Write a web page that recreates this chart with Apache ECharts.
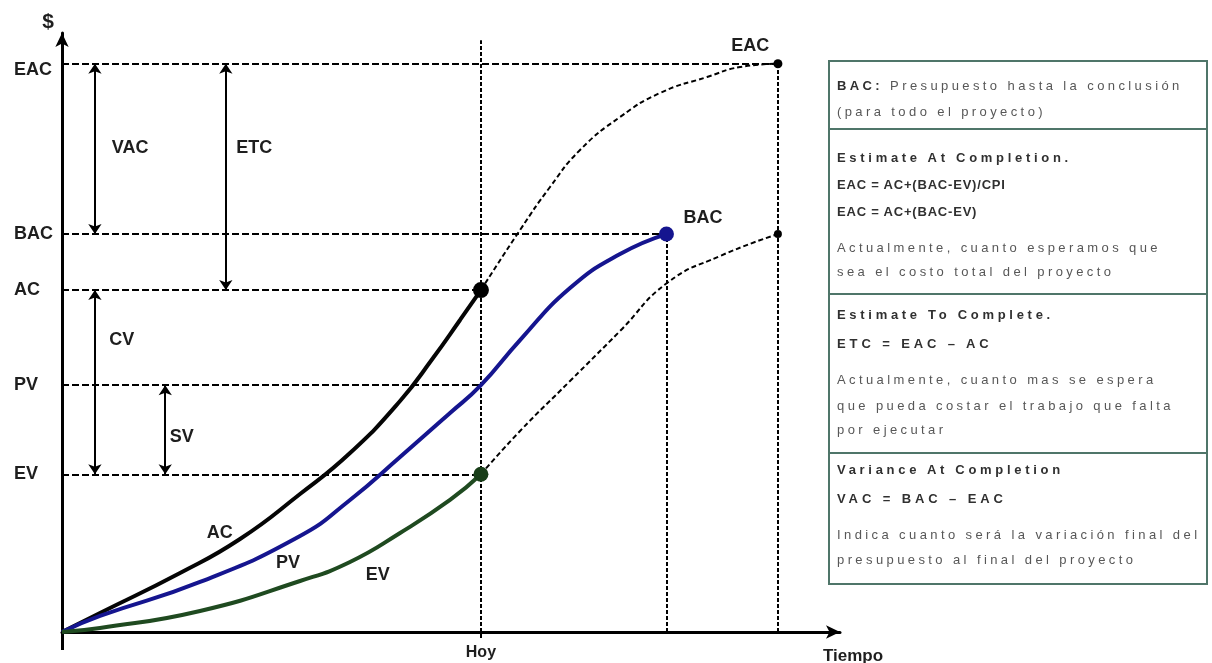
<!DOCTYPE html>
<html>
<head>
<meta charset="utf-8">
<title>Valor Ganado</title>
<script src="https://cdn.jsdelivr.net/npm/echarts@6/dist/echarts.min.js"></script>
<style>
  html, body { margin: 0; padding: 0; background: #fff; }
  #chart { position: absolute; left: 0; top: 0; width: 1212px; height: 663px; }
  #notes { position: absolute; left: 828px; top: 60px; width: 376px; height: 521px;
           border: 2px solid #4f7569; font-family: 'Liberation Sans', Arial, sans-serif; font-size: 13px; }
  .sep { position: absolute; left: 0; right: 0; height: 0; border-top: 2px solid #4f7569; }
  .ln { position: absolute; left: 7px; white-space: nowrap; line-height: 16px; color: #575757; letter-spacing: 3.4px; }
  .ln.t { font-weight: bold; color: #303030; letter-spacing: 3.7px; }
  .ln.f { font-weight: bold; color: #303030; letter-spacing: 0.8px; }
  .ln.g { font-weight: bold; color: #303030; letter-spacing: 3.9px; }
  .ln b { color: #303030; }
</style>
</head>
<body>
<div id="chart"></div>
<div id="notes"></div>
<script>
// Cost levels marked on the $ axis
const levelNames  = ['EV', 'PV', 'AC', 'BAC', 'EAC'];
const levelValues = [26.2, 41.0, 56.8, 66.1, 94.4];
const EV = levelValues[0], PV = levelValues[1], AC = levelValues[2], BAC = levelValues[3], EAC = levelValues[4];

// Time marks
const timeNames  = ['Hoy'];
const hoyTime    = 56.0;   // today
const bacTime    = 80.8;   // planned finish
const endTime    = 95.7;   // forecast finish

// Cumulative curves  [time, $]
const acCurve = [[0, 0], [5.08, 3.16], [15.78, 9.80], [23.80, 15.45], [31.82, 22.92], [38.50, 29.73],
                 [45.19, 38.37], [49.60, 45.51], [53.21, 51.83], [hoyTime, AC]];
const pvCurve = [[0, 0], [5.08, 2.66], [18.45, 8.31], [31.82, 15.95], [38.50, 21.93], [45.19, 29.07],
                 [51.87, 36.38], [hoyTime, PV], [61.23, 48.50], [67.91, 57.14], [74.60, 62.79], [bacTime, BAC]];
const evCurve = [[0, 0], [5.08, 0.66], [18.45, 3.49], [31.82, 8.47], [38.50, 11.63], [45.19, 16.45],
                 [51.87, 21.93], [hoyTime, EV]];

// Forecast continuations after today
const eacForecast = [[hoyTime, AC], [61.23, 66.78], [65.24, 73.92], [69.25, 80.07], [74.60, 85.55],
                     [79.95, 89.54], [86.23, 92.19], [90.64, 93.85], [endTime, EAC]];
const evForecast  = [[hoyTime, EV], [61.23, 33.39], [67.91, 41.69], [74.60, 50.00], [80.88, 57.97],
                     [87.97, 62.46], [endTime, BAC]];

// Variance spans: name, time, from, to
const spanNames = ['VAC', 'ETC', 'CV', 'SV'];
const spanTimes = [4.4, 21.9, 4.4, 13.8];
const spanFrom  = [EAC, EAC, AC, PV];
const spanTo    = [BAC, AC, EV, EV];

// Notes panel text
const noteDividers = [67, 232, 391];
const noteLines = [
  { y: 24,  k: '',  h: '<b>BAC:</b> Presupuesto hasta la conclusión' },
  { y: 50,  k: '',  h: '(para todo el proyecto)' },
  { y: 96,  k: 't', h: 'Estimate At Completion.' },
  { y: 123, k: 'f', h: 'EAC = AC+(BAC-EV)/CPI' },
  { y: 150, k: 'f', h: 'EAC = AC+(BAC-EV)' },
  { y: 186, k: '',  h: 'Actualmente, cuanto esperamos que' },
  { y: 210, k: '',  h: 'sea el costo total del proyecto' },
  { y: 253, k: 't', h: 'Estimate To Complete.' },
  { y: 282, k: 'g', h: 'ETC = EAC – AC' },
  { y: 318, k: '',  h: 'Actualmente, cuanto mas se espera' },
  { y: 344, k: '',  h: 'que pueda costar el trabajo que falta' },
  { y: 368, k: '',  h: 'por ejecutar' },
  { y: 408, k: 't', h: 'Variance At Completion' },
  { y: 437, k: 'g', h: 'VAC = BAC – EAC' },
  { y: 473, k: '',  h: 'Indica cuanto será la variación final del' },
  { y: 498, k: '',  h: 'presupuesto al final del proyecto' }
];

const notes = document.getElementById('notes');
noteDividers.forEach(function (y) {
  const d = document.createElement('div');
  d.className = 'sep';
  d.style.top = (y - 1) + 'px';
  notes.appendChild(d);
});
noteLines.forEach(function (l) {
  const d = document.createElement('div');
  d.className = 'ln' + (l.k ? ' ' + l.k : '');
  d.style.top = (l.y - 8) + 'px';
  d.innerHTML = l.h;
  notes.appendChild(d);
});

const FONT = "'Liberation Sans', Arial, sans-serif";
const INK = '#1e1e1e';
const boldText = { fontFamily: FONT, fontWeight: 'bold', fontSize: 18, color: INK };

function seg(x1, y1, x2, y2) { return { coords: [[x1, y1], [x2, y2]] }; }

// Horizontal guides from the $ axis to each level's mark
const hGuides = [
  seg(0, EV, hoyTime, EV), seg(0, PV, hoyTime, PV), seg(0, AC, hoyTime, AC),
  seg(0, BAC, bacTime, BAC), seg(0, EAC, endTime, EAC)
];
// Vertical guides down to the time axis
const vGuides = [
  seg(hoyTime, 0, hoyTime, 98.3), seg(bacTime, 0, bacTime, BAC), seg(endTime, 0, endTime, EAC)
];
const spans = spanNames.map(function (n, i) { return seg(spanTimes[i], spanFrom[i], spanTimes[i], spanTo[i]); });

const chart = echarts.init(document.getElementById('chart'), null, { renderer: 'canvas' });

const curve = function (name, data, color, width, dash, z) {
  return {
    name: name, type: 'line', data: data, smooth: 0.5,
    showSymbol: false, z: z, silent: true,
    lineStyle: { color: color, width: width, type: dash || 'solid' }
  };
};

const option = {
  animation: false,
  backgroundColor: '#fff',
  grid: { left: 62, top: 33, right: 372, bottom: 31, outerBoundsMode: 'none', containLabel: false },
  xAxis: [{
    type: 'value', min: 0, max: 104,
    name: 'Tiempo', nameLocation: 'end', nameGap: -17,
    nameTextStyle: { fontFamily: FONT, fontWeight: 'bold', fontSize: 17, color: INK,
                     verticalAlign: 'top', padding: [16, 0, 0, 0] },
    axisLine: { onZero: false, symbol: ['none', 'arrow'], symbolSize: [10, 14],
                lineStyle: { color: '#000', width: 3 } },
    axisTick: { show: true, customValues: [hoyTime], length: 6, lineStyle: { color: '#000', width: 2 } },
    axisLabel: { customValues: [hoyTime], margin: 13, formatter: function () { return timeNames[0]; },
                 fontFamily: FONT, fontWeight: 'bold', fontSize: 16, color: INK },
    splitLine: { show: false }
  }, {
    // stub of the $ axis continuing below the origin
    type: 'value', min: 0, max: 104, position: 'bottom',
    axisLine: { show: false },
    axisTick: { show: true, customValues: [0], length: 18, lineStyle: { color: '#000', width: 3 } },
    axisLabel: { show: false },
    splitLine: { show: false }
  }],
  yAxis: {
    type: 'value', min: 0, max: 99.5,
    name: '$', nameLocation: 'end', nameGap: 0,
    nameTextStyle: { fontFamily: FONT, fontWeight: 'bold', fontSize: 21, color: INK,
                     align: 'right', padding: [0, 8, 0, 0] },
    axisLine: { onZero: false, symbol: ['none', 'arrow'], symbolSize: [10, 14],
                lineStyle: { color: '#000', width: 3 } },
    axisTick: { show: false },
    axisLabel: {
      customValues: levelValues, margin: 48, align: 'left',
      fontFamily: FONT, fontWeight: 'bold', fontSize: 18, color: INK,
      formatter: function (v) {
        let best = 0;
        levelValues.forEach(function (lv, i) { if (Math.abs(lv - v) < Math.abs(levelValues[best] - v)) best = i; });
        return levelNames[best] === 'EAC' ? '{lo|EAC}' : levelNames[best];
      },
      rich: { lo: { fontFamily: FONT, fontWeight: 'bold', fontSize: 18, color: INK, padding: [12, 0, 0, 0] } }
    },
    splitLine: { show: false }
  },
  series: [
    {
      name: 'niveles', type: 'lines', coordinateSystem: 'cartesian2d', z: 1, silent: true,
      data: hGuides,
      lineStyle: { color: '#000', width: 2, opacity: 1, type: [7, 3] }
    },
    {
      name: 'fechas', type: 'lines', coordinateSystem: 'cartesian2d', z: 1, silent: true,
      data: vGuides,
      lineStyle: { color: '#000', width: 2, opacity: 1, type: [4, 2] }
    },
    {
      name: 'variaciones', type: 'lines', coordinateSystem: 'cartesian2d', z: 2, silent: true,
      data: spans, symbol: ['arrow', 'arrow'], symbolSize: 10,
      lineStyle: { color: '#000', width: 2, opacity: 1 }
    },
    curve('EAC previsto', eacForecast, '#000', 2, [5, 3], 3),
    curve('EV previsto', evForecast, '#000', 2, [5, 3], 3),
    curve('AC', acCurve, '#050505', 4, null, 4),
    curve('PV', pvCurve, '#15158f', 4, null, 4),
    curve('EV', evCurve, '#1f4a20', 4, null, 4),
    {
      name: 'puntos', type: 'scatter', z: 5, silent: true,
      itemStyle: { opacity: 1 },
      data: [
        { value: [hoyTime, AC],  symbolSize: 16, itemStyle: { color: '#000', opacity: 1 } },
        { value: [hoyTime, EV],  symbolSize: 15, itemStyle: { color: '#183d18', opacity: 1 } },
        { value: [bacTime, BAC], symbolSize: 15, itemStyle: { color: '#15158f', opacity: 1 } },
        { value: [endTime, EAC], symbolSize: 9,  itemStyle: { color: '#000', opacity: 1 } },
        { value: [endTime, BAC], symbolSize: 8,  itemStyle: { color: '#000', opacity: 1 } }
      ]
    },
    {
      name: 'rotulos', type: 'scatter', z: 6, silent: true, symbolSize: 0,
      itemStyle: { opacity: 1 },
      label: Object.assign({ show: true, position: [0, 0], align: 'center', verticalAlign: 'middle',
                             formatter: '{b}', opacity: 1 }, boldText),
      data: [
        { name: spanNames[0], value: [9.1, 80.4] },
        { name: spanNames[1], value: [25.7, 80.4] },
        { name: spanNames[2], value: [8.0, 48.5] },
        { name: spanNames[3], value: [16.0, 32.4] },
        { name: 'AC',  value: [21.1, 16.4] },
        { name: 'PV',  value: [30.2, 11.5] },
        { name: 'EV',  value: [42.2, 9.5] },
        { name: 'BAC', value: [85.7, 68.8] },
        { name: 'EAC', value: [92.0, 97.3] }
      ]
    }
  ]
};

chart.setOption(option);
</script>
</body>
</html>
